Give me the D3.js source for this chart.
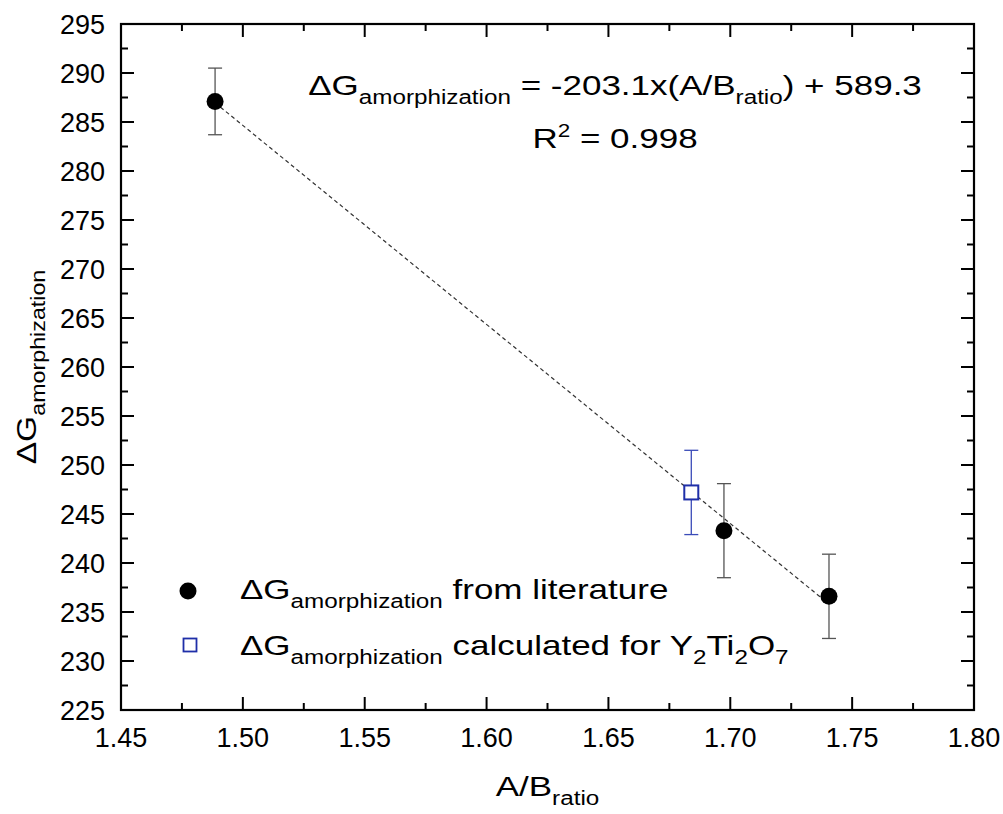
<!DOCTYPE html>
<html><head><meta charset="utf-8">
<script src="https://cdn.jsdelivr.net/npm/d3@7/dist/d3.min.js"></script>
<style>body{margin:0;background:#fff}svg{display:block;font-family:"Liberation Sans",Arial,sans-serif}</style>
</head><body><svg id="c" width="1003" height="814"></svg>
<script>
// data
const litX = [1.4886, 1.6974, 1.7405];
const litY = [287.1, 243.3, 236.6];
const litErr = [3.4, 4.8, 4.3];
const calcX = [1.684];
const calcY = [247.2];
const calcErr = [4.3];
const fitX = [1.4886, 1.7405];
const slope = -203.1, intercept = 589.3;
const xTicks = [1.45, 1.50, 1.55, 1.60, 1.65, 1.70, 1.75, 1.80];
const yTicks = [225,230,235,240,245,250,255,260,265,270,275,280,285,290,295];

const svg = d3.select("#c");
const L=121, R=974, T=24, B=710;
const x = d3.scaleLinear().domain([1.45,1.80]).range([L,R]);
const y = d3.scaleLinear().domain([225,295]).range([B,T]);
const fs = 27;
const MAIN = 28, SUB = 19.4, SX = 1.25, SUBDY = 9;

// fit line
svg.append("line").attr("x1",x(fitX[0])).attr("y1",y(slope*fitX[0]+intercept))
  .attr("x2",x(fitX[1])).attr("y2",y(slope*fitX[1]+intercept))
  .attr("stroke","#333").attr("stroke-width",1.2).attr("stroke-dasharray","4,3");

// error bars
function errBars(xs, ys, es, color){
  xs.forEach((xv,i)=>{
    const g = svg.append("g").attr("stroke",color).attr("stroke-width",1.3);
    g.append("line").attr("x1",x(xv)).attr("x2",x(xv)).attr("y1",y(ys[i]+es[i])).attr("y2",y(ys[i]-es[i]));
    [ys[i]+es[i], ys[i]-es[i]].forEach(v=>g.append("line").attr("x1",x(xv)-7).attr("x2",x(xv)+7).attr("y1",y(v)).attr("y2",y(v)));
  });
}
errBars(litX, litY, litErr, "#555");
errBars(calcX, calcY, calcErr, "#3a4bb8");

litX.forEach((xv,i)=>svg.append("circle").attr("cx",x(xv)).attr("cy",y(litY[i])).attr("r",8.5).attr("fill","#000"));
calcX.forEach((xv,i)=>svg.append("rect").attr("x",x(xv)-7).attr("y",y(calcY[i])-7).attr("width",14).attr("height",14)
  .attr("fill","#fff").attr("stroke","#1f2fa8").attr("stroke-width",2));

// axes frame
const ax = svg.append("g");
ax.append("rect").attr("x",L).attr("y",T).attr("width",R-L).attr("height",B-T).attr("fill","none").attr("stroke","#000").attr("stroke-width",2.2);
const xMinor = d3.range(0,7).map(i=>1.475+i*0.05);
const yMinor = d3.range(0,14).map(i=>227.5+i*5);
const tk = (x1,y1,x2,y2)=>ax.append("line").attr("x1",x1).attr("y1",y1).attr("x2",x2).attr("y2",y2).attr("stroke","#000").attr("stroke-width",2);
xTicks.forEach(v=>{tk(x(v),B,x(v),B-13);tk(x(v),T,x(v),T+13);});
xMinor.forEach(v=>{tk(x(v),B,x(v),B-7);tk(x(v),T,x(v),T+7);});
yTicks.forEach(v=>{tk(L,y(v),L+13,y(v));tk(R,y(v),R-13,y(v));});
yMinor.forEach(v=>{tk(L,y(v),L+7,y(v));tk(R,y(v),R-7,y(v));});

// tick labels
xTicks.forEach(v=>svg.append("text").attr("x",x(v)).attr("y",B+37).attr("text-anchor","middle").attr("font-size",fs).text(v.toFixed(2)));
yTicks.forEach(v=>svg.append("text").attr("x",L-16).attr("y",y(v)+9.5).attr("text-anchor","end").attr("font-size",fs).text(v));

// rich text helper: parts = [[text, 'n'|'sub'|'sup'], ...]
function rich(transform, anchor, parts){
  const t = svg.append("text").attr("transform",transform).attr("text-anchor",anchor).attr("font-size",MAIN);
  let cur = 0;
  parts.forEach(([s,k])=>{
    const target = k==="sub" ? SUBDY : k==="sup" ? -11 : 0;
    const sp = t.append("tspan").attr("dy",target-cur).text(s);
    if(k!=="n") sp.attr("font-size", k==="sup"?18:SUB);
    cur = target;
  });
  return t;
}

// axis titles
rich(`translate(${(L+R)/2},796) scale(${SX},1)`, "middle", [["A/B","n"],["ratio","sub"]]);
rich(`translate(36,${(T+B)/2}) rotate(-90) scale(${SX*0.96},1)`, "middle", [["ΔG","n"],["amorphization","sub"]]);

// equation
rich(`translate(615,95) scale(${SX},1)`, "middle",
  [["ΔG","n"],["amorphization","sub"],[" = -203.1x(A/B","n"],["ratio","sub"],[") + 589.3","n"]]);
rich(`translate(615,148) scale(${SX},1)`, "middle", [["R","n"],["2","sup"],[" = 0.998","n"]]);

// legend
svg.append("circle").attr("cx",188).attr("cy",591).attr("r",8.5).attr("fill","#000");
svg.append("rect").attr("x",183.5).attr("y",638.5).attr("width",13).attr("height",13).attr("fill","#fff").attr("stroke","#1f2fa8").attr("stroke-width",1.8);
rich(`translate(240,599) scale(${SX},1)`, "start", [["ΔG","n"],["amorphization","sub"],[" from literature","n"]]);
rich(`translate(240,655) scale(${SX},1)`, "start",
  [["ΔG","n"],["amorphization","sub"],[" calculated for Y","n"],["2","sub"],["Ti","n"],["2","sub"],["O","n"],["7","sub"]]);
</script></body></html>
